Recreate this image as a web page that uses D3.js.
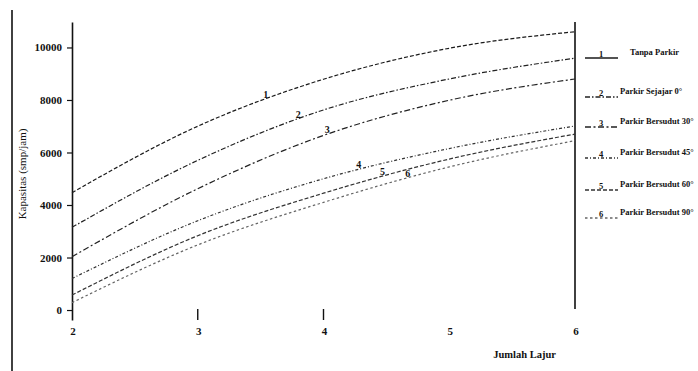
<!DOCTYPE html>
<html>
<head>
<meta charset="utf-8">
<script src="https://cdn.jsdelivr.net/npm/d3@7"></script>
<style>
  html, body { margin: 0; padding: 0; background: #ffffff; }
  svg { display: block; }
</style>
</head>
<body>
<svg id="chart" width="698" height="371"></svg>
<script>
// ---------------- data ----------------
const xValues = [2, 3, 4, 5, 6];
const seriesNames = ["Tanpa Parkir", "Parkir Sejajar 0°", "Parkir Bersudut 30°", "Parkir Bersudut 45°", "Parkir Bersudut 60°", "Parkir Bersudut 90°"];
const seriesCodes = ["1", "2", "3", "4", "5", "6"];
const series1 = [4470, 7000, 8790, 9970, 10600];
const series2 = [3150, 5700, 7620, 8800, 9590];
const series3 = [2030, 4620, 6650, 7990, 8800];
const series4 = [1200, 3400, 5000, 6150, 7010];
const series5 = [570, 2830, 4450, 5750, 6700];
const series6 = [280, 2480, 4100, 5450, 6450];
const curveLabelX = [3.54, 3.80, 4.03, 4.28, 4.47, 4.67];
const yTickValues = [0, 2000, 4000, 6000, 8000, 10000];
const xTickValues = [2, 3, 4, 5, 6];
const xTickMarks = [3, 4];
const yTitle = "Kapasitas (smp/jam)";
const xTitle = "Jumlah Lajur";

// ---------------- layout ----------------
const allSeries = [series1, series2, series3, series4, series5, series6];
const dashes = ["4,2", "5,2,1.5,2", "6,2.5,2,2.5", "3,2,1,2", "4,2", "2.5,2.5"];
const legendDashes = [null, "5,2,1.5,2", "6,2.5,2,2.5", "3,2,1,2", "4,2", "2.5,2.5"];
const colors = ["#1a1a1a", "#222", "#222", "#333", "#333", "#666"];
const serif = "'Liberation Serif', 'DejaVu Serif', serif";

const svg = d3.select("#chart");
const x = d3.scaleLinear().domain([2, 6]).range([72, 575]);
const y = d3.scaleLinear().domain([-380, 10970]).range([320, 22]);

// left page border
svg.append("line").attr("x1", 12).attr("x2", 12).attr("y1", 10).attr("y2", 371)
  .attr("stroke", "#111").attr("stroke-width", 1.6);

// y axis
const yAxis = svg.append("g").attr("transform", `translate(${x(2)},0)`)
  .call(d3.axisLeft(y).tickValues(yTickValues).tickFormat(d3.format("d"))
    .tickSize(5).tickSizeOuter(0).tickPadding(5));
yAxis.select(".domain").attr("stroke", "#111").attr("stroke-width", 1.6);
yAxis.selectAll(".tick line").attr("stroke", "#111").attr("stroke-width", 1.2);
yAxis.selectAll(".tick text").attr("font-family", serif).attr("font-size", 11)
  .attr("font-weight", "bold").attr("fill", "#111");

// right vertical line
svg.append("line").attr("x1", x(6)).attr("x2", x(6)).attr("y1", y(10970)).attr("y2", 309)
  .attr("stroke", "#111").attr("stroke-width", 1.6);

// x tick marks and labels
svg.append("g").selectAll("line").data(xTickMarks).join("line")
  .attr("x1", d => x(d)).attr("x2", d => x(d)).attr("y1", 309).attr("y2", 320)
  .attr("stroke", "#111").attr("stroke-width", 1.4);
svg.append("g").selectAll("text").data(xTickValues).join("text")
  .attr("x", d => x(d) + 1).attr("y", 335).attr("text-anchor", "middle")
  .attr("font-family", serif).attr("font-size", 11).attr("font-weight", "bold")
  .attr("fill", "#111").text(d => d);

// titles
svg.append("text").attr("transform", "translate(26,174) rotate(-90)")
  .attr("text-anchor", "middle").attr("font-family", serif).attr("font-size", 11)
  .attr("fill", "#111").text(yTitle);
svg.append("text").attr("x", 556).attr("y", 358).attr("text-anchor", "end")
  .attr("font-family", serif).attr("font-size", 10.5).attr("font-weight", "bold")
  .attr("fill", "#111").text(xTitle);

// curves
const lineGen = d3.line().x(d => x(d[0])).y(d => y(d[1])).curve(d3.curveMonotoneX);
const paths = allSeries.map((s, i) =>
  svg.append("path").datum(xValues.map((xv, j) => [xv, s[j]]))
    .attr("d", lineGen).attr("fill", "none")
    .attr("stroke", colors[i]).attr("stroke-width", 1.2)
    .attr("stroke-dasharray", dashes[i]).node());

// curve number labels
function pointAtX(path, px) {
  const L = path.getTotalLength();
  let lo = 0, hi = L;
  for (let k = 0; k < 30; k++) {
    const mid = (lo + hi) / 2;
    if (path.getPointAtLength(mid).x < px) lo = mid; else hi = mid;
  }
  return path.getPointAtLength((lo + hi) / 2);
}
paths.forEach((p, i) => {
  const pt = pointAtX(p, x(curveLabelX[i]));
  svg.append("text").attr("x", pt.x).attr("y", pt.y - 1).attr("text-anchor", "middle")
    .attr("font-family", serif).attr("font-size", 10).attr("font-weight", "bold")
    .attr("fill", "#111").text(seriesCodes[i]);
});

// legend
const legendY = [58, 97, 127, 158, 190, 218];
const lg = svg.append("g");
seriesNames.forEach((name, i) => {
  const ly = legendY[i];
  const ln = lg.append("line").attr("x1", 585).attr("x2", 618).attr("y1", ly).attr("y2", ly)
    .attr("stroke", colors[i]).attr("stroke-width", 1.3);
  if (legendDashes[i]) ln.attr("stroke-dasharray", legendDashes[i]);
  lg.append("text").attr("x", 601).attr("y", ly - 1).attr("text-anchor", "middle")
    .attr("font-family", serif).attr("font-size", 8.5).attr("font-weight", "bold")
    .attr("fill", "#111").text(seriesCodes[i]);
  lg.append("text").attr("x", i === 0 ? 630 : 620).attr("y", ly - 3)
    .attr("font-family", serif).attr("font-size", 8.5).attr("font-weight", "bold")
    .attr("fill", "#111").text(name);
});
</script>
</body>
</html>
